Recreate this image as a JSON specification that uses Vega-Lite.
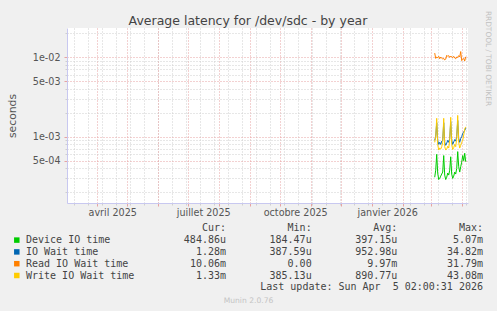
{
  "$schema": "https://vega.github.io/schema/vega-lite/v6.json",
  "width": 401,
  "height": 175,
  "autosize": {"type": "none"},
  "padding": {"left": 67, "top": 28, "right": 29, "bottom": 108},
  "background": "#f0f0f0",
  "config": {"view": {"fill": "#ffffff", "stroke": null}, "font": "DejaVu Sans"},
  "title": {"text": "Average latency for /dev/sdc - by year", "font": "DejaVu Sans", "fontSize": 12.5, "fontWeight": "normal", "color": "#444444", "anchor": "middle", "frame": "group", "dx": -19.5, "baseline": "alphabetic", "offset": -27},
  "layer": [
    {
      "data": {"values": [
        {"d": "2026-03-05T00:00:00", "Device IO time": 0.00031, "IO Wait time": 0.0009, "Read IO Wait time": 0.0112, "Write IO Wait time": 0.00085},
        {"d": "2026-03-06T00:00:00", "Device IO time": 0.00038, "IO Wait time": 0.001, "Read IO Wait time": 0.0096, "Write IO Wait time": 0.001},
        {"d": "2026-03-07T00:00:00", "Device IO time": 0.0006, "IO Wait time": 0.0015, "Read IO Wait time": 0.01, "Write IO Wait time": 0.0017},
        {"d": "2026-03-08T00:00:00", "Device IO time": 0.00035, "IO Wait time": 0.0009, "Read IO Wait time": 0.0098, "Write IO Wait time": 0.0008},
        {"d": "2026-03-09T00:00:00", "Device IO time": 0.00029, "IO Wait time": 0.0008, "Read IO Wait time": 0.0102, "Write IO Wait time": 0.00068},
        {"d": "2026-03-10T00:00:00", "Device IO time": 0.0003, "IO Wait time": 0.00085, "Read IO Wait time": 0.0095, "Write IO Wait time": 0.00072},
        {"d": "2026-03-11T00:00:00", "Device IO time": 0.00032, "IO Wait time": 0.0008, "Read IO Wait time": 0.01, "Write IO Wait time": 0.0007},
        {"d": "2026-03-12T00:00:00", "Device IO time": 0.00034, "IO Wait time": 0.00088, "Read IO Wait time": 0.0097, "Write IO Wait time": 0.00075},
        {"d": "2026-03-13T00:00:00", "Device IO time": 0.00036, "IO Wait time": 0.0009, "Read IO Wait time": 0.0094, "Write IO Wait time": 0.00085},
        {"d": "2026-03-14T00:00:00", "Device IO time": 0.00058, "IO Wait time": 0.0015, "Read IO Wait time": 0.0096, "Write IO Wait time": 0.0017},
        {"d": "2026-03-15T00:00:00", "Device IO time": 0.00033, "IO Wait time": 0.00085, "Read IO Wait time": 0.0092, "Write IO Wait time": 0.00075},
        {"d": "2026-03-16T00:00:00", "Device IO time": 0.00029, "IO Wait time": 0.00078, "Read IO Wait time": 0.0094, "Write IO Wait time": 0.00068},
        {"d": "2026-03-17T00:00:00", "Device IO time": 0.00031, "IO Wait time": 0.00083, "Read IO Wait time": 0.0105, "Write IO Wait time": 0.0007},
        {"d": "2026-03-18T00:00:00", "Device IO time": 0.00035, "IO Wait time": 0.0009, "Read IO Wait time": 0.0102, "Write IO Wait time": 0.00076},
        {"d": "2026-03-19T00:00:00", "Device IO time": 0.00033, "IO Wait time": 0.00085, "Read IO Wait time": 0.0104, "Write IO Wait time": 0.00072},
        {"d": "2026-03-20T00:00:00", "Device IO time": 0.00038, "IO Wait time": 0.00095, "Read IO Wait time": 0.0099, "Write IO Wait time": 0.0009},
        {"d": "2026-03-21T00:00:00", "Device IO time": 0.00056, "IO Wait time": 0.00155, "Read IO Wait time": 0.0103, "Write IO Wait time": 0.00175},
        {"d": "2026-03-22T00:00:00", "Device IO time": 0.00034, "IO Wait time": 0.0009, "Read IO Wait time": 0.01, "Write IO Wait time": 0.0008},
        {"d": "2026-03-23T00:00:00", "Device IO time": 0.0003, "IO Wait time": 0.0008, "Read IO Wait time": 0.0098, "Write IO Wait time": 0.00069},
        {"d": "2026-03-24T00:00:00", "Device IO time": 0.00032, "IO Wait time": 0.00086, "Read IO Wait time": 0.0102, "Write IO Wait time": 0.00073},
        {"d": "2026-03-25T00:00:00", "Device IO time": 0.00036, "IO Wait time": 0.00092, "Read IO Wait time": 0.0097, "Write IO Wait time": 0.0008},
        {"d": "2026-03-26T00:00:00", "Device IO time": 0.00034, "IO Wait time": 0.00088, "Read IO Wait time": 0.0095, "Write IO Wait time": 0.00075},
        {"d": "2026-03-27T00:00:00", "Device IO time": 0.0004, "IO Wait time": 0.001, "Read IO Wait time": 0.01, "Write IO Wait time": 0.00095},
        {"d": "2026-03-28T00:00:00", "Device IO time": 0.00065, "IO Wait time": 0.0016, "Read IO Wait time": 0.0099, "Write IO Wait time": 0.00185},
        {"d": "2026-03-29T00:00:00", "Device IO time": 0.00042, "IO Wait time": 0.00095, "Read IO Wait time": 0.0104, "Write IO Wait time": 0.00085},
        {"d": "2026-03-30T00:00:00", "Device IO time": 0.00036, "IO Wait time": 0.00085, "Read IO Wait time": 0.01, "Write IO Wait time": 0.00072},
        {"d": "2026-03-31T00:00:00", "Device IO time": 0.00042, "IO Wait time": 0.00095, "Read IO Wait time": 0.0117, "Write IO Wait time": 0.00078},
        {"d": "2026-04-01T00:00:00", "Device IO time": 0.00048, "IO Wait time": 0.001, "Read IO Wait time": 0.009, "Write IO Wait time": 0.00085},
        {"d": "2026-04-02T00:00:00", "Device IO time": 0.00058, "IO Wait time": 0.0011, "Read IO Wait time": 0.0093, "Write IO Wait time": 0.0009},
        {"d": "2026-04-03T00:00:00", "Device IO time": 0.0005, "IO Wait time": 0.00115, "Read IO Wait time": 0.0096, "Write IO Wait time": 0.00105},
        {"d": "2026-04-04T00:00:00", "Device IO time": 0.00062, "IO Wait time": 0.0012, "Read IO Wait time": 0.0089, "Write IO Wait time": 0.00125},
        {"d": "2026-04-05T00:00:00", "Device IO time": 0.000485, "IO Wait time": 0.00128, "Read IO Wait time": 0.01006, "Write IO Wait time": 0.00133}
      ]},
      "transform": [{"fold": ["Device IO time", "IO Wait time", "Read IO Wait time", "Write IO Wait time"], "as": ["s", "v"]}],
      "layer": [
        {
          "mark": {"type": "line", "strokeWidth": 1, "clip": true},
          "encoding": {
            "x": {"field": "d", "type": "temporal",
              "scale": {"domain": [{"year": 2025, "month": 3, "date": 2, "hours": 7}, {"year": 2026, "month": 4, "date": 7, "hours": 7}], "nice": false},
              "axis": {"orient": "bottom", "grid": true, "gridColor": "#cfcfcf", "gridDash": [1, 2], "gridWidth": 1, "labels": false, "ticks": true, "tickColor": "#cfcfcf", "tickSize": 2, "domain": false, "title": null,
                "values": [
                  {"year": 2025, "month": 3, "date": 9}, {"year": 2025, "month": 3, "date": 23}, {"year": 2025, "month": 4, "date": 6}, {"year": 2025, "month": 4, "date": 20},
                  {"year": 2025, "month": 5, "date": 4}, {"year": 2025, "month": 5, "date": 18}, {"year": 2025, "month": 6, "date": 1}, {"year": 2025, "month": 6, "date": 15},
                  {"year": 2025, "month": 6, "date": 29}, {"year": 2025, "month": 7, "date": 13}, {"year": 2025, "month": 7, "date": 27}, {"year": 2025, "month": 8, "date": 10},
                  {"year": 2025, "month": 8, "date": 24}, {"year": 2025, "month": 9, "date": 7}, {"year": 2025, "month": 9, "date": 21}, {"year": 2025, "month": 10, "date": 5},
                  {"year": 2025, "month": 10, "date": 19}, {"year": 2025, "month": 11, "date": 2}, {"year": 2025, "month": 11, "date": 16}, {"year": 2025, "month": 11, "date": 30},
                  {"year": 2025, "month": 12, "date": 14}, {"year": 2025, "month": 12, "date": 28}, {"year": 2026, "month": 1, "date": 11}, {"year": 2026, "month": 1, "date": 25},
                  {"year": 2026, "month": 2, "date": 8}, {"year": 2026, "month": 2, "date": 22}, {"year": 2026, "month": 3, "date": 8}, {"year": 2026, "month": 3, "date": 22},
                  {"year": 2026, "month": 4, "date": 5}
                ]}},
            "y": {"field": "v", "type": "quantitative",
              "scale": {"type": "log", "domain": [0.0001473, 0.02312], "nice": false},
              "axis": {"orient": "left", "grid": true, "gridColor": "#cfcfcf", "gridDash": [1, 2], "gridWidth": 1, "labels": false, "ticks": true, "tickColor": "#cfcfcf", "tickSize": 2, "domain": false, "title": null,
                "values": [0.0002, 0.0003, 0.0004, 0.0006, 0.0007, 0.0008, 0.0009, 0.002, 0.003, 0.004, 0.006, 0.007, 0.008, 0.009, 0.02]}},
            "color": {"field": "s", "type": "nominal",
              "scale": {"domain": ["Device IO time", "IO Wait time", "Read IO Wait time", "Write IO Wait time"], "range": ["#00cc00", "#0066b3", "#ff8000", "#ffcc00"]},
              "legend": null}
          }
        },
        {
          "mark": {"type": "line", "opacity": 0},
          "encoding": {
            "x": {"field": "d", "type": "temporal",
              "scale": {"domain": [{"year": 2025, "month": 3, "date": 2, "hours": 7}, {"year": 2026, "month": 4, "date": 7, "hours": 7}], "nice": false},
              "axis": {"orient": "bottom", "grid": true, "gridColor": "#e6a3a3", "gridDash": [1, 2], "gridWidth": 1, "labels": false, "ticks": true, "tickColor": "#e6a3a3", "tickSize": 3, "domain": true, "domainColor": "#c8c8f0", "domainWidth": 1, "title": null,
                "values": [
                  {"year": 2025, "month": 4, "date": 1}, {"year": 2025, "month": 5, "date": 1}, {"year": 2025, "month": 6, "date": 1}, {"year": 2025, "month": 7, "date": 1},
                  {"year": 2025, "month": 8, "date": 1}, {"year": 2025, "month": 9, "date": 1}, {"year": 2025, "month": 10, "date": 1}, {"year": 2025, "month": 11, "date": 1},
                  {"year": 2025, "month": 12, "date": 1}, {"year": 2026, "month": 1, "date": 1}, {"year": 2026, "month": 2, "date": 1}, {"year": 2026, "month": 3, "date": 1},
                  {"year": 2026, "month": 4, "date": 1}
                ]}},
            "y": {"field": "v", "type": "quantitative",
              "scale": {"type": "log", "domain": [0.0001473, 0.02312], "nice": false},
              "axis": {"orient": "left", "grid": true, "gridColor": "#e6a3a3", "gridDash": [1, 2], "gridWidth": 1, "ticks": true, "tickColor": "#e6a3a3", "tickSize": 3, "domain": true, "domainColor": "#c8c8f0", "domainWidth": 1,
                "values": [0.0005, 0.001, 0.005, 0.01],
                "labelExpr": "replace(format(datum.value, '.0e'), 'e-', 'e-0')",
                "labelFont": "DejaVu Sans", "labelFontSize": 9.6, "labelColor": "#555555", "labelPadding": 4,
                "title": "seconds", "titleX": -52, "titleY": 87.5, "titleAngle": -90, "titleAlign": "center", "titleBaseline": "alphabetic",
                "titleFont": "DejaVu Sans", "titleFontSize": 10.8, "titleFontWeight": "normal", "titleColor": "#555555"}}
          }
        },
        {
          "mark": {"type": "line", "opacity": 0},
          "encoding": {
            "x": {"field": "d", "type": "temporal",
              "scale": {"domain": [{"year": 2025, "month": 3, "date": 2, "hours": 7}, {"year": 2026, "month": 4, "date": 7, "hours": 7}], "nice": false},
              "axis": {"orient": "bottom", "grid": false, "ticks": false, "domain": false,
                "values": [{"year": 2025, "month": 4, "date": 16, "hours": 12}, {"year": 2025, "month": 7, "date": 16, "hours": 12}, {"year": 2025, "month": 10, "date": 16, "hours": 12}, {"year": 2026, "month": 1, "date": 16, "hours": 12}],
                "labelExpr": "['janvier','février','mars','avril','mai','juin','juillet','août','septembre','octobre','novembre','décembre'][month(datum.value)] + ' ' + year(datum.value)",
                "labelFont": "DejaVu Sans", "labelFontSize": 9.6, "labelColor": "#555555", "labelPadding": 4,
                "title": "Munin 2.0.76", "titleX": 181, "titleY": 97, "titleAlign": "center", "titleBaseline": "middle",
                "titleFont": "DejaVu Sans", "titleFontSize": 7.6, "titleFontWeight": "normal", "titleColor": "#c4c4c4"}},
            "y": {"field": "v", "type": "quantitative",
              "scale": {"type": "log", "domain": [0.0001473, 0.02312], "nice": false},
              "axis": {"orient": "right", "grid": false, "ticks": false, "labels": false, "domain": false,
                "title": "RRDTOOL / TOBI OETIKER", "titleX": 19.5, "titleY": 30, "titleAngle": 90, "titleAlign": "center", "titleBaseline": "middle", "titleLimit": 200,
                "titleFont": "DejaVu Sans", "titleFontSize": 7.4, "titleFontWeight": "normal", "titleColor": "#c0c0c0"}}
          }
        }
      ],
      "resolve": {"axis": {"x": "independent", "y": "independent"}}
    },
    {
      "layer": [
        {
          "layer": [
            {
              "data": {"values": [
                {"name": "Device IO time", "cur": "484.86u", "min": "184.47u", "avg": "397.15u", "max": "5.07m"},
                {"name": "IO Wait time", "cur": "1.28m", "min": "387.59u", "avg": "952.98u", "max": "34.82m"},
                {"name": "Read IO Wait time", "cur": "10.06m", "min": "0.00", "avg": "9.97m", "max": "31.79m"},
                {"name": "Write IO Wait time", "cur": "1.33m", "min": "385.13u", "avg": "890.77u", "max": "43.08m"}
              ]},
              "transform": [{"fold": ["cur", "min", "avg", "max"], "as": ["k", "t"]}],
              "mark": {"type": "text", "align": "right", "baseline": "middle", "font": "DejaVu Sans Mono", "fontSize": 10, "color": "#444444"},
              "encoding": {
                "x": {"field": "k", "type": "nominal", "scale": {"type": "point", "domain": ["cur", "min", "avg", "max"], "range": [159, 416], "padding": 0}, "axis": null},
                "y": {"field": "name", "type": "nominal", "scale": {"type": "point", "domain": ["header", "Device IO time", "IO Wait time", "Read IO Wait time", "Write IO Wait time", "last"], "range": [200.3, 259.3], "padding": 0}, "axis": null},
                "text": {"field": "t"}
              }
            },
            {
              "data": {"values": [
                {"k": "cur", "t": "Cur:\u00a0\u00a0"},
                {"k": "min", "t": "Min:\u00a0\u00a0"},
                {"k": "avg", "t": "Avg:\u00a0\u00a0"},
                {"k": "max", "t": "Max:\u00a0\u00a0"}
              ]},
              "mark": {"type": "text", "align": "right", "baseline": "middle", "font": "DejaVu Sans Mono", "fontSize": 10, "color": "#444444"},
              "encoding": {
                "x": {"field": "k", "type": "nominal", "scale": {"type": "point", "domain": ["cur", "min", "avg", "max"], "range": [159, 416], "padding": 0}, "axis": null},
                "y": {"datum": "header", "type": "nominal", "scale": {"type": "point", "domain": ["header", "Device IO time", "IO Wait time", "Read IO Wait time", "Write IO Wait time", "last"], "range": [200.3, 259.3], "padding": 0}, "axis": null},
                "text": {"field": "t"}
              }
            },
            {
              "data": {"values": [{"k": "max", "t": "Last update: Sun Apr\u00a0\u00a05 02:00:31 2026"}]},
              "mark": {"type": "text", "align": "right", "baseline": "middle", "font": "DejaVu Sans Mono", "fontSize": 10, "color": "#444444"},
              "encoding": {
                "x": {"field": "k", "type": "nominal", "scale": {"type": "point", "domain": ["cur", "min", "avg", "max"], "range": [159, 416], "padding": 0}, "axis": null},
                "y": {"datum": "last", "type": "nominal", "scale": {"type": "point", "domain": ["header", "Device IO time", "IO Wait time", "Read IO Wait time", "Write IO Wait time", "last"], "range": [200.3, 259.3], "padding": 0}, "axis": null},
                "text": {"field": "t"}
              }
            }
          ]
        },
        {
          "data": {"values": [
            {"name": "Device IO time"},
            {"name": "IO Wait time"},
            {"name": "Read IO Wait time"},
            {"name": "Write IO Wait time"}
          ]},
          "layer": [
            {
              "mark": {"type": "square", "size": 30, "opacity": 1},
              "encoding": {
                "x": {"datum": "sym", "type": "nominal", "scale": {"type": "point", "domain": ["sym", "lab"], "range": [-50.2, -41], "padding": 0}, "axis": null},
                "y": {"field": "name", "type": "nominal", "scale": {"type": "point", "domain": ["header", "Device IO time", "IO Wait time", "Read IO Wait time", "Write IO Wait time", "last"], "range": [200.3, 259.3], "padding": 0}, "axis": null},
                "color": {"field": "name", "type": "nominal", "scale": {"domain": ["Device IO time", "IO Wait time", "Read IO Wait time", "Write IO Wait time"], "range": ["#00cc00", "#0066b3", "#ff8000", "#ffcc00"]}, "legend": null}
              }
            },
            {
              "mark": {"type": "text", "align": "left", "baseline": "middle", "font": "DejaVu Sans Mono", "fontSize": 10, "color": "#444444"},
              "encoding": {
                "x": {"datum": "lab", "type": "nominal", "scale": {"type": "point", "domain": ["sym", "lab"], "range": [-50.2, -41], "padding": 0}, "axis": null},
                "y": {"field": "name", "type": "nominal", "scale": {"type": "point", "domain": ["header", "Device IO time", "IO Wait time", "Read IO Wait time", "Write IO Wait time", "last"], "range": [200.3, 259.3], "padding": 0}, "axis": null},
                "text": {"field": "name"}
              }
            }
          ]
        }
      ],
      "resolve": {"scale": {"x": "independent", "color": "independent"}}
    }
  ],
  "resolve": {"scale": {"x": "independent", "y": "independent", "color": "independent"}}
}
